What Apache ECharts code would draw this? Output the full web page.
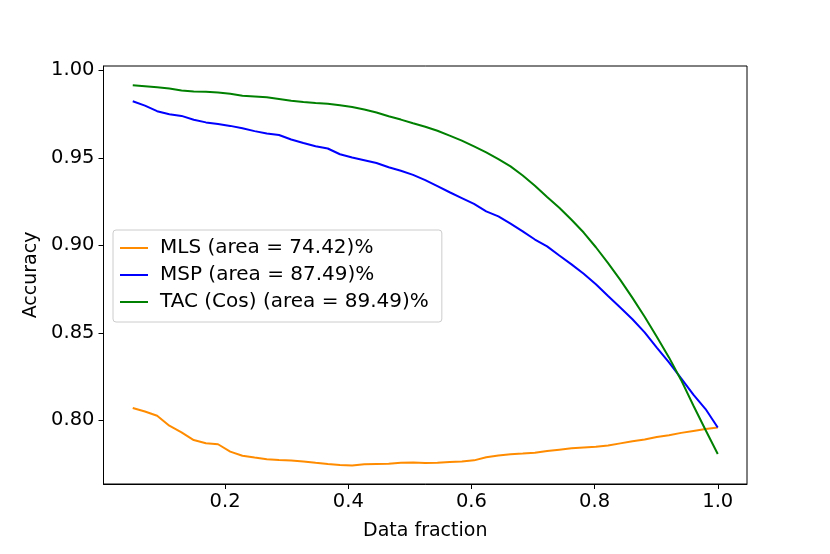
<!DOCTYPE html>
<html>
<head>
<meta charset="utf-8">
<script src="https://cdn.jsdelivr.net/npm/echarts@6/dist/echarts.min.js"></script>
<style>
  html, body { margin: 0; padding: 0; background: #fff; }
  #chart { width: 830px; height: 554px; }
</style>
</head>
<body>
<div id="chart"></div>
<script>
// data fraction (x)
var fractions = [
    0.0500, 0.0698, 0.0896, 0.1094, 0.1292, 0.1490, 0.1688, 0.1885, 0.2083, 0.2281,
    0.2479, 0.2677, 0.2875, 0.3073, 0.3271, 0.3469, 0.3667, 0.3865, 0.4063, 0.4260,
    0.4458, 0.4656, 0.4854, 0.5052, 0.5250, 0.5448, 0.5646, 0.5844, 0.6042, 0.6240,
    0.6438, 0.6635, 0.6833, 0.7031, 0.7229, 0.7427, 0.7625, 0.7823, 0.8021, 0.8219,
    0.8417, 0.8615, 0.8813, 0.9010, 0.9208, 0.9406, 0.9604, 0.9802, 1.0000
];
var mlsAcc = [
    0.8071, 0.8051, 0.8027, 0.7970, 0.7932, 0.7888, 0.7870, 0.7864, 0.7822, 0.7798,
    0.7788, 0.7779, 0.7774, 0.7771, 0.7766, 0.7758, 0.7751, 0.7745, 0.7742, 0.7750,
    0.7751, 0.7752, 0.7758, 0.7760, 0.7757, 0.7758, 0.7762, 0.7766, 0.7772, 0.7790,
    0.7800, 0.7807, 0.7811, 0.7816, 0.7825, 0.7833, 0.7841, 0.7846, 0.7850, 0.7857,
    0.7869, 0.7881, 0.7891, 0.7905, 0.7916, 0.7929, 0.7940, 0.7951, 0.7960
];
var mspAcc = [
    0.9823, 0.9798, 0.9766, 0.9749, 0.9739, 0.9717, 0.9702, 0.9693, 0.9682, 0.9669,
    0.9652, 0.9638, 0.9630, 0.9604, 0.9584, 0.9566, 0.9553, 0.9520, 0.9501, 0.9486,
    0.9470, 0.9446, 0.9426, 0.9402, 0.9372, 0.9338, 0.9303, 0.9270, 0.9237, 0.9194,
    0.9165, 0.9124, 0.9080, 0.9033, 0.8994, 0.8942, 0.8891, 0.8838, 0.8778, 0.8711,
    0.8645, 0.8578, 0.8503, 0.8416, 0.8331, 0.8240, 0.8147, 0.8065, 0.7960
];
var tacAcc = [
    0.9914, 0.9908, 0.9902, 0.9895, 0.9884, 0.9878, 0.9877, 0.9872, 0.9865, 0.9854,
    0.9850, 0.9846, 0.9836, 0.9826, 0.9819, 0.9813, 0.9808, 0.9800, 0.9790, 0.9776,
    0.9758, 0.9737, 0.9718, 0.9697, 0.9677, 0.9654, 0.9626, 0.9598, 0.9565, 0.9531,
    0.9492, 0.9451, 0.9399, 0.9340, 0.9276, 0.9215, 0.9146, 0.9073, 0.8989, 0.8898,
    0.8803, 0.8700, 0.8592, 0.8478, 0.8360, 0.8230, 0.8085, 0.7945, 0.7808
];
var seriesNames = ['MLS (area = 74.42)%', 'MSP (area = 87.49)%', 'TAC (Cos) (area = 89.49)%'];
var seriesColors = ['#ff8c00', '#0000ff', '#008000'];
var xTicks = [0.2, 0.4, 0.6, 0.8, 1.0];
var yTicks = [0.80, 0.85, 0.90, 0.95, 1.00];

function pairs(ys) {
    var out = [];
    for (var i = 0; i < fractions.length; i++) {
        out.push([fractions[i], ys[i]]);
    }
    return out;
}

var myChart = echarts.init(document.getElementById('chart'), null, {renderer: 'canvas'});
var font = 'DejaVu Sans';
var allAcc = [mlsAcc, mspAcc, tacAcc];
var series = [];
for (var s = 0; s < allAcc.length; s++) {
    series.push({
        name: seriesNames[s],
        type: 'line',
        symbol: 'none',
        data: pairs(allAcc[s]),
        lineStyle: {color: seriesColors[s], width: 2},
        itemStyle: {color: seriesColors[s]}
    });
}

var option = {
    animation: false,
    backgroundColor: '#fff',
    grid: {
        left: 103.5,
        right: 83,
        top: 66,
        bottom: 70,
        show: true,
        borderColor: '#000',
        borderWidth: 1,
        backgroundColor: 'transparent'
    },
    legend: {
        orient: 'vertical',
        left: 113,
        top: 230,
        padding: [8, 13, 10, 7],
        icon: 'rect',
        itemWidth: 28,
        itemHeight: 2,
        itemGap: 7,
        backgroundColor: 'rgba(255,255,255,0.8)',
        borderColor: '#cccccc',
        borderWidth: 1,
        borderRadius: 3,
        data: seriesNames,
        textStyle: {
            fontFamily: font,
            fontSize: 20,
            color: '#000',
            lineHeight: 20,
            padding: [0, 0, 0, 7]
        }
    },
    xAxis: {
        type: 'value',
        min: 0.0025,
        max: 1.0475,
        name: 'Data fraction',
        nameLocation: 'middle',
        nameGap: 38,
        nameTextStyle: {fontFamily: font, fontSize: 19, color: '#000'},
        axisLine: {show: true, lineStyle: {color: '#000', width: 1}},
        axisTick: {show: true, length: 5, lineStyle: {color: '#000'}, customValues: xTicks},
        axisLabel: {
            fontFamily: font, fontSize: 19.5, color: '#000', margin: 8,
            customValues: xTicks,
            formatter: function (v) { return v.toFixed(1); }
        },
        splitLine: {show: false}
    },
    yAxis: {
        type: 'value',
        min: 0.7637,
        max: 1.0024,
        name: 'Accuracy',
        nameLocation: 'middle',
        nameGap: 63,
        nameTextStyle: {fontFamily: font, fontSize: 19, color: '#000'},
        axisLine: {show: true, lineStyle: {color: '#000', width: 1}},
        axisTick: {show: true, length: 5, lineStyle: {color: '#000'}, customValues: yTicks},
        axisLabel: {
            fontFamily: font, fontSize: 19.5, color: '#000', margin: 9,
            customValues: yTicks,
            formatter: function (v) { return v.toFixed(2); }
        },
        splitLine: {show: false}
    },
    series: series
};
myChart.setOption(option);
</script>
</body>
</html>
